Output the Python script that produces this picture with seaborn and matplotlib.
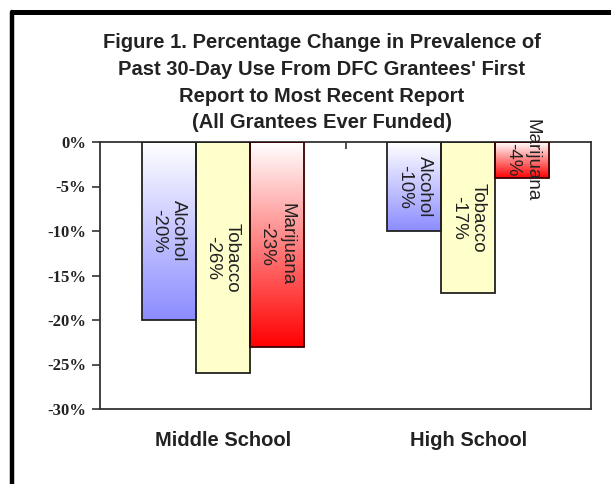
import numpy as np
import pandas as pd
import matplotlib
matplotlib.use("Agg")
import matplotlib.pyplot as plt
import seaborn as sns
from matplotlib.lines import Line2D
from matplotlib.colors import LinearSegmentedColormap

# ---- data ----
schools = ["Middle School", "High School"]
substances = ["Alcohol", "Tobacco", "Marijuana"]
alcohol = [-20, -10]
tobacco = [-26, -17]
marijuana = [-23, -4]
yticks = [0, -5, -10, -15, -20, -25, -30]
title_lines = ["Figure 1. Percentage Change in Prevalence of",
               "Past 30-Day Use From DFC Grantees' First",
               "Report to Most Recent Report",
               "(All Grantees Ever Funded)"]

df = pd.DataFrame({
    "school": schools * 3,
    "substance": [s for s in substances for _ in schools],
    "value": alcohol + tobacco + marijuana,
})

sns.set_theme(style="white")
plt.rcParams["font.family"] = ["Liberation Sans", "DejaVu Sans"]

fig = plt.figure(figsize=(6.11, 4.84), dpi=100)
ax = fig.add_axes([100/611, 1-409/484, (591-100)/611, (409-142)/484])

palette = {"Alcohol": "#8C8CFF", "Tobacco": "#FFFFCC", "Marijuana": "#FF0000"}
edges = {"Alcohol": "#222222", "Tobacco": "#222222", "Marijuana": "#3a0000"}
sns.barplot(data=df, x="school", y="value", hue="substance", order=schools,
            hue_order=substances, palette=palette, width=0.66, ax=ax,
            legend=False, errorbar=None, linewidth=1.3, edgecolor="#222222")

grads = {
    "Alcohol": LinearSegmentedColormap.from_list("a", ["#FFFFFF", "#8C8CFF"]),
    "Tobacco": LinearSegmentedColormap.from_list("t", ["#FFFFCC", "#FFFFCC"]),
    "Marijuana": LinearSegmentedColormap.from_list("m", ["#FFFFFF", "#FF0000"]),
}
vals = {"Alcohol": alcohol, "Tobacco": tobacco, "Marijuana": marijuana}
grad = np.linspace(0, 1, 256).reshape(-1, 1)
for cont, sub in zip(ax.containers, substances):
    for bar in cont:
        x0, w = bar.get_x(), bar.get_width()
        y0, h = bar.get_y(), bar.get_height()
        top, bot = max(y0, y0 + h), min(y0, y0 + h)
        bar.set_facecolor("none")
        bar.set_edgecolor(edges[sub])
        bar.set_zorder(3)
        im = ax.imshow(grad, cmap=grads[sub], aspect="auto",
                       extent=[x0, x0 + w, bot, top], origin="upper",
                       zorder=2, interpolation="bilinear")
        im.set_clip_path(bar)
    labels = [f"{sub}\n{v}%" for v in vals[sub]]
    ax.bar_label(cont, labels=labels, label_type="center", rotation=-90,
                 fontsize=13.5, color="#222222", zorder=4)

ax.set_xlim(-0.5, 1.5)
ax.set_ylim(-30, 0)
ax.set_yticks(yticks)
ax.set_yticklabels([f"{t}%" for t in yticks], fontfamily="Liberation Serif",
                   fontsize=12, fontweight="bold", color="#222222")
ax.tick_params(axis="y", length=6, width=1.2, direction="out", pad=4,
               left=True, color="#333333")
ax.tick_params(axis="x", length=0, pad=16)
for lab in ax.get_xticklabels():
    lab.set_fontweight("bold")
    lab.set_fontsize(14.5)
    lab.set_color("#222222")
ax.set_xticks([0.5], minor=True)
ax.tick_params(axis="x", which="minor", top=True, bottom=False, direction="in",
               length=5, width=1.2, color="#333333")
ax.set_xlabel("")
ax.set_ylabel("")
for s in ax.spines.values():
    s.set_visible(True)
    s.set_color("#333333")
    s.set_linewidth(1.3)
ax.set_facecolor("white")

title_baseline = [48, 75, 102, 128]
for line, ypx in zip(title_lines, title_baseline):
    fig.text(322/611, 1-ypx/484, line, ha="center", va="baseline",
             fontsize=14.5, fontweight="bold", color="#222222")

# outer frame (cropped screenshot border)
fig.add_artist(Line2D([12/611, 12/611], [-0.05, 1-12/484], color="black",
                      lw=3.2, transform=fig.transFigure))
fig.add_artist(Line2D([12/611, 1.05], [1-12/484, 1-12/484], color="black",
                      lw=3.6, transform=fig.transFigure))

fig.savefig("out.png", dpi=100)
